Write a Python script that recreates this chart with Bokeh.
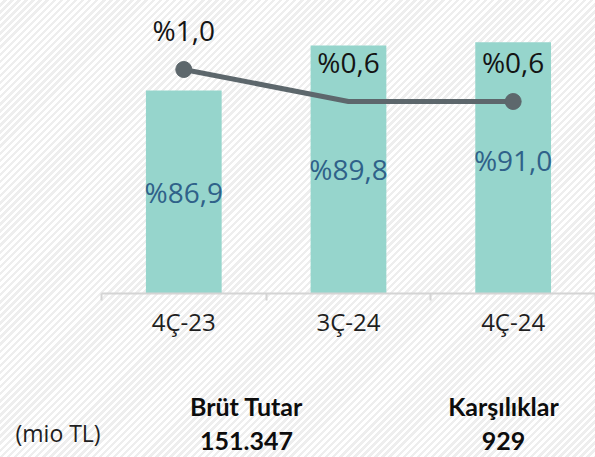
import numpy as np
from bokeh.plotting import figure
from bokeh.models import Range1d, FixedTicker, CustomJSTickFormatter, Label
from bokeh.core.properties import value
from bokeh.embed import file_html
from bokeh.resources import INLINE

# ---------------- data ----------------
categories = ["4Ç-23", "3Ç-24", "4Ç-24"]
coverage = [86.9, 89.8, 91.0]            # bar series (%)
coverage_labels = ["%86,9", "%89,8", "%91,0"]
npl_ratio = [1.0, 0.6, 0.6]              # line series (%)
npl_labels = ["%1,0", "%0,6", "%0,6"]
marker_points = [0, 2]

table_headers = ["Brüt Tutar", "Karşılıklar"]
table_values = ["151.347", "929"]
table_unit = "(mio TL)"

# bar axis of the original chart (bars are cut at its maximum)
BAR_AXIS_MIN = 73.8
BAR_AXIS_MAX = 90.0

BAR_COLOR = "#96d5cc"
BAR_TEXT = "#2f6189"
LINE_COLOR = "#5d676c"
AXIS_COLOR = "#d4d4d4"

x = np.arange(len(categories)) + 0.5
cov = np.array(coverage)
ratio = np.array(npl_ratio)

# ---------------- chart (frame fills the canvas; the x axis sits at the bar baseline) ----------------
p = figure(width=595, height=457,
           x_range=Range1d(-0.613, 3), y_range=Range1d(63.21, 92.7),
           output_backend="svg", toolbar_location=None,
           min_border=0, y_axis_location=None, x_axis_location="below",
           background_fill_color=None, border_fill_color=None, outline_line_color=None)
p.grid.visible = False
p.extra_y_ranges = {"ratio": Range1d(-3.85, 1.8625)}
p.styles = {"background-image": "repeating-linear-gradient(135deg, #ffffff 0px, #ffffff 2.5px, "
                                "#eeeeee 2.5px, #eeeeee 5px)"}

ax = p.xaxis[0]
ax.fixed_location = BAR_AXIS_MIN
ax.bounds = (0, len(categories))
ax.ticker = FixedTicker(ticks=list(x), minor_ticks=list(range(len(categories) + 1)))
ax.formatter = CustomJSTickFormatter(args=dict(cats=categories),
                                     code="return cats[Math.round(tick - 0.5)] || '';")
ax.major_tick_line_color = None
ax.major_tick_in = 0
ax.major_tick_out = 7
ax.minor_tick_in = 0
ax.minor_tick_out = 7
ax.minor_tick_line_color = AXIS_COLOR
ax.minor_tick_line_width = 2
ax.axis_line_color = AXIS_COLOR
ax.axis_line_width = 2
ax.major_label_standoff = 5
ax.major_label_text_font = "Open Sans"
ax.major_label_text_font_size = "24px"
ax.major_label_text_color = "#1f1f1f"

p.vbar(x=x, width=0.46, bottom=BAR_AXIS_MIN, top=np.minimum(cov, BAR_AXIS_MAX),
       fill_color=BAR_COLOR, line_color=None)

p.text(x=x, y=(BAR_AXIS_MIN + cov) / 2, text=coverage_labels,
       text_align="center", text_baseline="middle",
       text_font=value("Open Sans"), text_font_size="28px", text_color=BAR_TEXT)

p.line(x, ratio, y_range_name="ratio", line_width=5, line_color=LINE_COLOR)
p.scatter(x[marker_points], ratio[marker_points], y_range_name="ratio",
          size=16, fill_color=LINE_COLOR, line_color=LINE_COLOR)

p.text(x=x, y=ratio, text=npl_labels, y_range_name="ratio", y_offset=-40,
       text_align="center", text_baseline="middle",
       text_font=value("Open Sans"), text_font_size="28px", text_color="#141414")

# ---------------- table below the chart (screen units, origin bottom-left) ----------------
bold = dict(x_units="screen", y_units="screen", text_align="center", text_baseline="middle",
            text_font="Lato", text_font_style="bold", text_font_size="25px",
            text_color="#0d0d0d", level="overlay")
col_x = [246, 503]
for cx, head, val in zip(col_x, table_headers, table_values):
    p.add_layout(Label(x=cx, y=52, text=head, **bold))
    p.add_layout(Label(x=cx, y=17, text=val, **bold))
p.add_layout(Label(x=15, y=25, text=table_unit, x_units="screen", y_units="screen",
                   text_align="left", text_baseline="middle", text_font="Open Sans",
                   text_font_size="23px", text_color="#1f1f1f", level="overlay"))

open("out.html", "w").write(file_html(p, INLINE))
